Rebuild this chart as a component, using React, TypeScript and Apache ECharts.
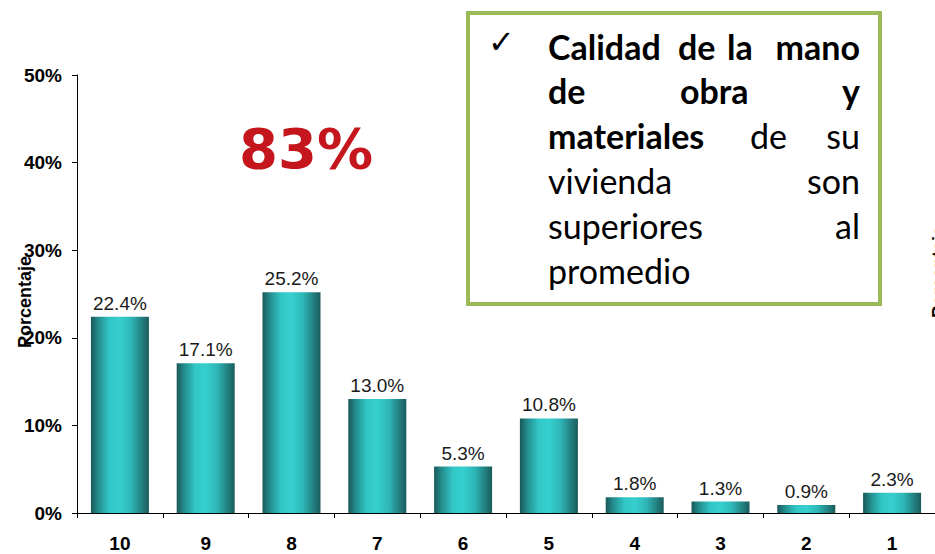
import React, { useEffect, useRef } from "react";
import * as echarts from "echarts";

const categories = ["10", "9", "8", "7", "6", "5", "4", "3", "2", "1"];
const values = [22.4, 17.1, 25.2, 13.0, 5.3, 10.8, 1.8, 1.3, 0.9, 2.3];
const yTicks = [0, 10, 20, 30, 40, 50];
const bigLabel = "83%";
const axisName = "Porcentaje";

export default function App() {
  const ref = useRef<HTMLDivElement>(null);
  useEffect(() => {
    if (!ref.current) return;
    const chart = echarts.init(ref.current, null, { renderer: "svg" });
    const barColor = new echarts.graphic.LinearGradient(0, 0, 1, 0, [
      { offset: 0, color: "#195858" },
      { offset: 0.12, color: "#23898a" },
      { offset: 0.32, color: "#32c6c6" },
      { offset: 0.5, color: "#36cfcf" },
      { offset: 0.7, color: "#2eb6b6" },
      { offset: 0.88, color: "#237f80" },
      { offset: 1, color: "#1a5c5c" },
    ]);
    const F = "Lato";
    const bl = (t: string, x: number, y: number, bold: boolean, align: string) => ({
      type: "text",
      x,
      y,
      style: {
        text: t,
        font: `${bold ? "bold " : ""}34px ${F}`,
        fill: "#000",
        align,
        verticalAlign: "middle",
      },
    });
    const lines = [58, 102, 147, 192, 237, 282].map((b) => b - 12);
    chart.setOption({
      animation: false,
      grid: { left: 77, top: 75, width: 866, height: 438, containLabel: false },
      xAxis: {
        type: "category",
        data: categories,
        boundaryGap: true,
        axisLine: { lineStyle: { color: "#000", width: 1 } },
        axisTick: { show: true, alignWithLabel: false, length: 5, lineStyle: { color: "#000" } },
        axisLabel: {
          fontFamily: "Liberation Sans",
          fontWeight: "bold",
          fontSize: 19,
          color: "#000",
          margin: 21,
        },
      },
      yAxis: {
        type: "value",
        min: 0,
        max: 50,
        interval: 10,
        splitLine: { show: false },
        axisLine: { show: true, lineStyle: { color: "#000", width: 1 } },
        axisTick: { show: true, length: 5, lineStyle: { color: "#000" } },
        axisLabel: {
          fontFamily: "Liberation Sans",
          fontWeight: "bold",
          fontSize: 19,
          color: "#000",
          margin: 15,
          formatter: (v: number) => (yTicks.includes(v) ? `${v}%` : ""),
        },
      },
      series: [
        {
          type: "bar",
          data: values,
          barWidth: 58,
          itemStyle: { color: barColor },
          label: {
            show: true,
            position: "top",
            distance: 4,
            fontFamily: "Liberation Sans",
            fontSize: 19,
            color: "#1a1a1a",
            formatter: (p: any) => `${Number(p.value).toFixed(1)}%`,
          },
        },
      ],
      graphic: [
        {
          type: "text",
          x: 25,
          y: 302,
          rotation: Math.PI / 2,
          style: {
            text: axisName,
            font: "bold 18px Liberation Sans",
            fill: "#000",
            align: "center",
            verticalAlign: "middle",
          },
        },
        {
          type: "text",
          x: 939,
          y: 272,
          rotation: Math.PI / 2,
          style: {
            text: axisName,
            font: "bold 18px Liberation Sans",
            fill: "#000",
            align: "center",
            verticalAlign: "middle",
          },
        },
        {
          type: "text",
          x: 306,
          y: 148,
          style: {
            text: bigLabel,
            font: "bold 56px DejaVu Sans",
            fill: "#c4161c",
            stroke: "#ffffff",
            lineWidth: 3,
            align: "center",
            verticalAlign: "middle",
            shadowBlur: 7,
            shadowColor: "rgba(0,0,0,0.5)",
            shadowOffsetX: 2,
            shadowOffsetY: 4,
          },
        },
        {
          type: "rect",
          shape: { x: 468, y: 13, width: 412, height: 291 },
          style: { fill: "#fff", stroke: "#9bbb59", lineWidth: 4 },
        },
        {
          type: "text",
          x: 488,
          y: 42,
          style: { text: "✓", font: "32px DejaVu Sans", fill: "#000", align: "left", verticalAlign: "middle" },
        },
        bl("Calidad", 548, lines[0], true, "left"),
        bl("de", 678, lines[0], true, "left"),
        bl("la", 727, lines[0], true, "left"),
        bl("mano", 860, lines[0], true, "right"),
        bl("de", 548, lines[1], true, "left"),
        bl("obra", 680, lines[1], true, "left"),
        bl("y", 860, lines[1], true, "right"),
        bl("materiales", 548, lines[2], true, "left"),
        bl("de", 750, lines[2], false, "left"),
        bl("su", 860, lines[2], false, "right"),
        bl("vivienda", 548, lines[3], false, "left"),
        bl("son", 860, lines[3], false, "right"),
        bl("superiores", 548, lines[4], false, "left"),
        bl("al", 860, lines[4], false, "right"),
        bl("promedio", 548, lines[5], false, "left"),
      ],
    });
    return () => chart.dispose();
  }, []);
  return <div ref={ref} style={{ width: 935, height: 554, position: "absolute", left: 0, top: 0 }} />;
}
